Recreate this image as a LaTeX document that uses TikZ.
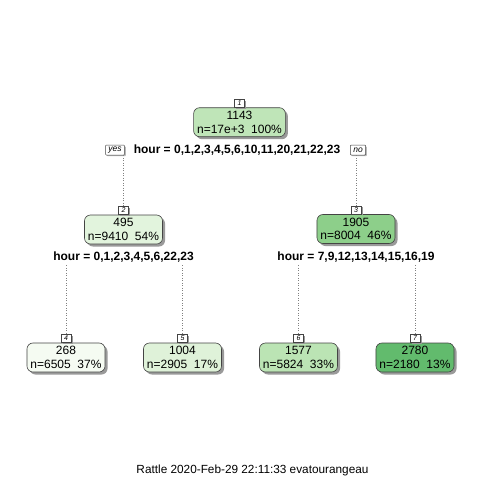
\documentclass[tikz,border=0pt]{standalone}
\usepackage{fontspec}
\setmainfont{Liberation Sans}
\usetikzlibrary{shadows}
\definecolor{cA}{HTML}{BFE5B8}
\definecolor{cB}{HTML}{E2F4DD}
\definecolor{cC}{HTML}{8DCF8A}
\definecolor{cD}{HTML}{F5FBF2}
\definecolor{cE}{HTML}{DFF2D9}
\definecolor{cF}{HTML}{BBE4B4}
\definecolor{cG}{HTML}{62BB6D}
\definecolor{edgegray}{HTML}{444444}
\definecolor{shadegray}{HTML}{9A9A9A}
\begin{document}
\begin{tikzpicture}[x=1pt,y=-1pt,
  treenode/.style={draw=edgegray, line width=0.6pt, rounded corners=6pt, align=center,
    font=\fontsize{12}{13.6}\selectfont, inner xsep=3.5pt, inner ysep=2pt, minimum height=29pt,
    drop shadow={shadow xshift=2.5pt, shadow yshift=-2.5pt, fill=shadegray, opacity=1}},
  numbox/.style={draw=edgegray, line width=0.5pt, fill=white, font=\fontsize{7}{7}\selectfont\itshape,
    inner sep=0pt, minimum width=10pt, minimum height=8pt,
    drop shadow={shadow xshift=1.5pt, shadow yshift=-1.5pt, fill=shadegray, opacity=1}},
  yn/.style={draw=edgegray, line width=0.5pt, fill=white, rounded corners=1pt, font=\fontsize{8.5}{8.5}\selectfont\itshape,
    inner xsep=3pt, inner ysep=0pt, minimum height=10pt,
    drop shadow={shadow xshift=1.2pt, shadow yshift=-1.2pt, fill=shadegray!70, opacity=1}},
  split/.style={font=\fontsize{12}{12}\selectfont\bfseries, inner sep=1pt},
  conn/.style={draw=gray, line width=0.6pt, dash pattern=on 0.7pt off 1.8pt}
]
\fill[white] (0,0) rectangle (480,480);
\useasboundingbox (0,0) rectangle (480,480);

% nodes
\node[treenode, fill=cA] (n1) at (239.5,122.2) {1143\\n=17e+3\ \ 100\%};
\node[treenode, fill=cB] (n2) at (123.5,229.5) {495\\n=9410\ \ 54\%};
\node[treenode, fill=cC] (n3) at (356,229) {1905\\n=8004\ \ 46\%};
\node[treenode, fill=cD] (n4) at (66,357.5) {268\\n=6505\ \ 37\%};
\node[treenode, fill=cE] (n5) at (182.5,357.5) {1004\\n=2905\ \ 17\%};
\node[treenode, fill=cF] (n6) at (298.5,357.5) {1577\\n=5824\ \ 33\%};
\node[treenode, fill=cG] (n7) at (415,357.5) {2780\\n=2180\ \ 13\%};

% number labels
\node[numbox, anchor=south] (l1) at (n1.north) {1};
\node[numbox, anchor=south] (l2) at (n2.north) {2};
\node[numbox, anchor=south] (l3) at (n3.north) {3};
\node[numbox, anchor=south] (l4) at (n4.north) {4};
\node[numbox, anchor=south] (l5) at (n5.north) {5};
\node[numbox, anchor=south] (l6) at (n6.north) {6};
\node[numbox, anchor=south] (l7) at (n7.north) {7};

% split labels
\node[split] (s1) at (237,150.5) {hour = 0,1,2,3,4,5,6,10,11,20,21,22,23};
\node[split] (s2) at (123.5,257) {hour = 0,1,2,3,4,5,6,22,23};
\node[split] (s3) at (356,257) {hour = 7,9,12,13,14,15,16,19};
\node[yn] (yes) at (115,150) {yes};
\node[yn] (no) at (358,150) {no};

% connectors
\draw[conn] (yes.south -| l2.north) -- (l2.north);
\draw[conn] (no.south -| l3.north) -- (l3.north);
\draw[conn] ([yshift=-2pt]s2.south -| l4.north) -- (l4.north);
\draw[conn] ([yshift=-2pt]s2.south -| l5.north) -- (l5.north);
\draw[conn] ([yshift=-2pt]s3.south -| l6.north) -- (l6.north);
\draw[conn] ([yshift=-2pt]s3.south -| l7.north) -- (l7.north);

% footer
\node[font=\fontsize{11.8}{11.8}\selectfont] (foot) at (252.5,470.5) {Rattle 2020-Feb-29 22:11:33 evatourangeau};
\end{tikzpicture}
\end{document}
